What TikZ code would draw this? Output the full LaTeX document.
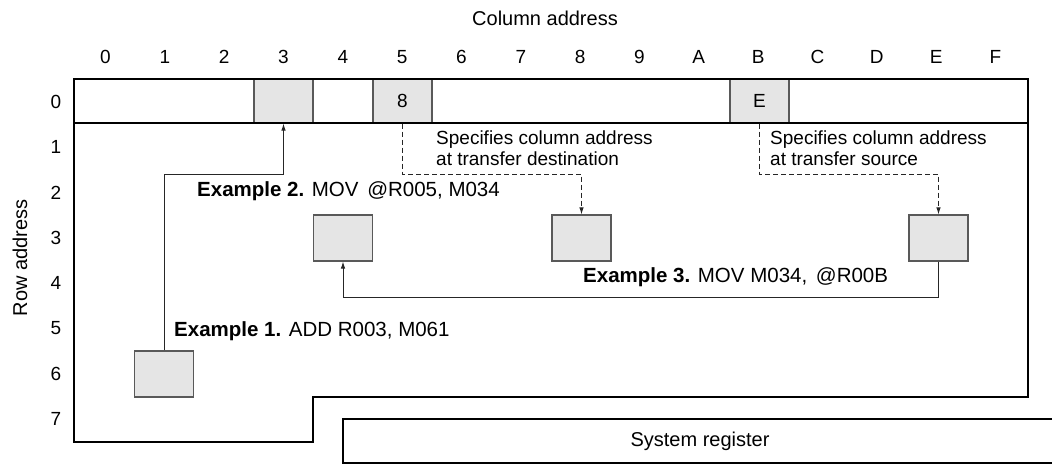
\documentclass[tikz,border=0pt]{standalone}
\usepackage{fontspec}
\setmainfont{Liberation Sans}
\usetikzlibrary{arrows.meta}
\begin{document}
\begin{tikzpicture}[x=1pt,y=-1pt,
  font=\fontsize{19}{22}\selectfont,
  outer/.style={line width=2pt, draw=black},
  cell/.style={draw=black!65, fill=black!10, line width=1.1pt, minimum width=59pt, minimum height=44pt, inner sep=0pt},
  mem/.style={draw=black!65, fill=black!10, line width=1.1pt, minimum width=59pt, minimum height=46pt, inner sep=0pt},
  conn/.style={line width=0.9pt, draw=black!85, -{Latex[length=7pt,width=4.5pt]}},
  dconn/.style={conn, dash pattern=on 5pt off 3pt},
  lbl/.style={inner sep=0pt, anchor=base west},
  exlbl/.style={lbl, font=\fontsize{20.5}{24}\selectfont},
  title/.style={inner sep=0pt, anchor=center, font=\fontsize{20}{24}\selectfont},
  num/.style={inner sep=0pt, anchor=center}]
\useasboundingbox (0,0) rectangle (1052,465);

% column address title
\node[title] (coltitle) at (545,18) {Column address};
% column numbers
\foreach \c/\t in {0/0,1/1,2/2,3/3,4/4,5/5,6/6,7/7,8/8,9/9,10/A,11/B,12/C,13/D,14/E,15/F}{
  \node[num] (col\t) at ({105.5+59.33*\c},57) {\t};
}
% row numbers
\foreach \r in {0,...,7}{
  \node[num] (row\r) at (56,{102+45.3*\r}) {\r};
}
\node[title, rotate=90] (rowtitle) at (20,258) {Row address};

% row 0 cells
\node[cell] (c3) at (283.5,101) {};
\node[cell] (c5) at (402.5,101) {8};
\node[cell] (cB) at (759.5,101) {E};

% outer boundary
\draw[outer] (74,79) -- (1028,79) -- (1028,397) -- (313,397) -- (313,442) -- (74,442) -- cycle;
\draw[outer] (74,123) -- (1028,123);

% system register
\draw[outer] (1052,419) -- (343,419) -- (343,463) -- (1052,463);
\node[title] (sysreg) at (700,441) {System register};

% memory cells
\node[mem] (m1) at (164,374) {};
\node[mem] (m4) at (343,238) {};
\node[mem] (m8) at (581.5,238) {};
\node[mem] (mE) at (938.5,238) {};

% connectors
\coordinate (j1) at (283.5,174);
\draw[conn] (m1.north) |- (j1) -- (c3.south);
\coordinate (d2) at (581.5,174);
\draw[dconn] (c5.south) |- (d2) -- (m8.north);
\coordinate (d3) at (938.5,174);
\draw[dconn] (cB.south) |- (d3) -- (mE.north);
\coordinate (j3) at (343,297);
\draw[conn] (mE.south) |- (j3) -- (m4.south);

% labels
\node[lbl] (s1a) at (436,145) {Specifies column address};
\node[lbl] (s1b) at (436,166) {at transfer destination};
\node[lbl] (s2a) at (770,145) {Specifies column address};
\node[lbl] (s2b) at (770,166) {at transfer source};
\node[exlbl] (ex2) at (197,197) {\textbf{Example 2.} MOV\hspace{3pt} @R005, M034};
\node[exlbl] (ex1) at (174,336) {\textbf{Example 1.} ADD R003, M061};
\node[exlbl] (ex3) at (583,282) {\textbf{Example 3.} MOV M034,\hspace{3pt} @R00B};
\end{tikzpicture}
\end{document}
